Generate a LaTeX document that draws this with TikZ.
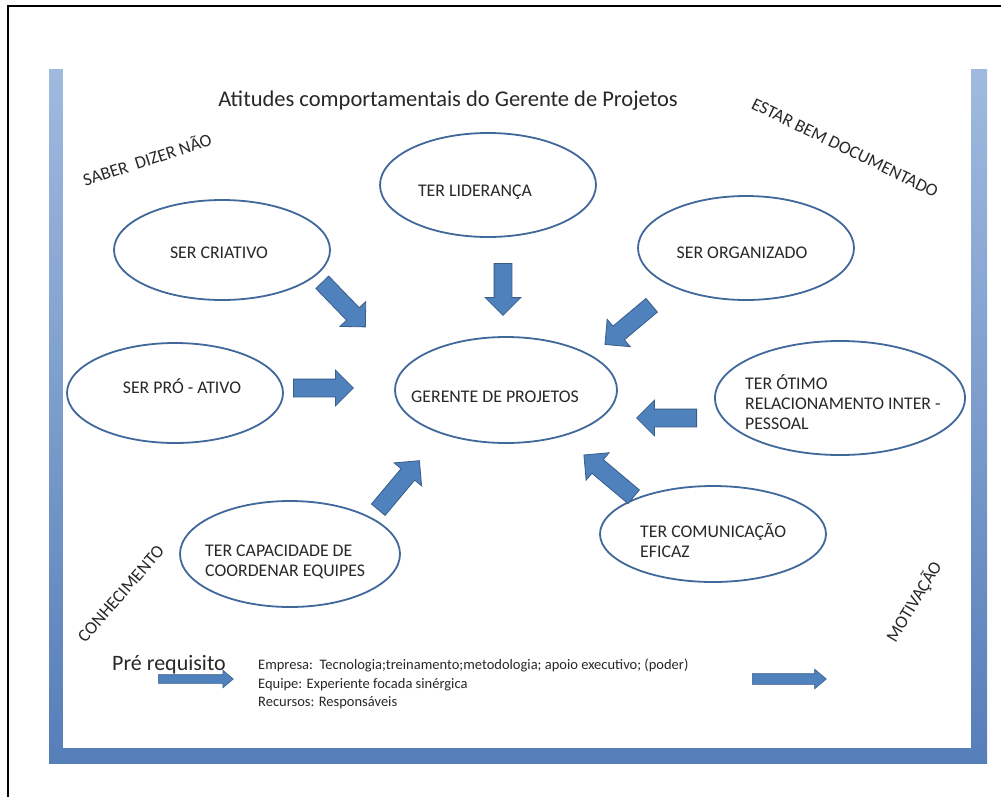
\documentclass[tikz,border=0pt]{standalone}
\usepackage{fontspec}
\setmainfont{Carlito}
\usepackage{tikz}
\usetikzlibrary{positioning, shapes.geometric, shapes.arrows}
\definecolor{ovalblue}{RGB}{64,104,154}
\definecolor{arrowfill}{RGB}{79,129,189}
\definecolor{arrowedge}{RGB}{56,93,138}
\definecolor{frametop}{RGB}{160,186,223}
\definecolor{framebot}{RGB}{86,126,185}
\definecolor{inkgray}{RGB}{40,40,40}

\begin{document}
\begin{tikzpicture}[
  x=1pt, y=-1pt,
  oval/.style={draw=ovalblue, line width=1.8pt, ellipse, inner sep=0pt},
  lbl/.style={font=\fontsize{17.8}{20}\selectfont, text=inkgray, inner sep=0pt},
  note/.style={font=\fontsize{14.5}{18.5}\selectfont, text=inkgray, inner sep=0pt, align=left},
  bigarrow/.style={single arrow, draw=arrowedge, fill=arrowfill, line width=0.8pt,
    inner xsep=0pt, inner ysep=8.5pt, minimum height=60pt, single arrow head extend=9pt, anchor=tail},
  smallarrow/.style={single arrow, draw=arrowedge, fill=arrowfill, line width=0.6pt,
    inner xsep=0pt, inner ysep=4pt, single arrow head extend=4.5pt, single arrow tip angle=80,
    minimum height=75pt, anchor=tail},
]
\useasboundingbox (0,0) rectangle (1001,796);
\clip (0,0) rectangle (1001,796);

% page with blue shadow
\shade[top color=frametop, bottom color=framebot] (49,69) rectangle (987,763);
\fill[white] (63,20) rectangle (971,748);
\draw[line width=1.5pt] (8,820) -- (8,6) -- (1020,6);

\node[font=\fontsize{22.5}{26}\selectfont, text=inkgray, inner sep=0pt, anchor=base] (title) at (448,106)
  {Atitudes comportamentais do Gerente de Projetos};

% ellipses
\node[oval, minimum width=216pt, minimum height=104pt] (lideranca) at (488,185) {};
\node[oval, minimum width=216pt, minimum height=100pt] (criativo) at (222,250) {};
\node[oval, minimum width=216pt, minimum height=104pt] (organizado) at (746,248) {};
\node[oval, minimum width=216pt, minimum height=100pt] (proativo) at (175,393) {};
\node[oval, minimum width=222pt, minimum height=106pt] (gerente) at (506,390) {};
\node[oval, minimum width=250pt, minimum height=114pt] (otimo) at (840,398) {};
\node[oval, minimum width=226pt, minimum height=96pt] (comunicacao) at (713,534) {};
\node[oval, minimum width=220pt, minimum height=106pt] (capacidade) at (290,554) {};

% texts
\node[lbl, anchor=base] (lideranca-t) at (475,196) {TER LIDERANÇA};
\node[lbl, anchor=base] (criativo-t) at (219,258) {SER CRIATIVO};
\node[lbl, anchor=base] (organizado-t) at (742,258) {SER ORGANIZADO};
\node[lbl, anchor=base] (proativo-t) at (182,393) {SER PRÓ - ATIVO};
\node[lbl, anchor=base] (gerente-t) at (495,402) {GERENTE DE PROJETOS};
\node[lbl, align=left, anchor=west] (otimo-t) at (745,402)
  {TER ÓTIMO\\RELACIONAMENTO INTER -\\PESSOAL};
\node[lbl, align=left, anchor=west] (comunicacao-t) at (640,540)
  {TER COMUNICAÇÃO\\EFICAZ};
\node[lbl, align=left, anchor=west] (capacidade-t) at (205,562)
  {TER CAPACIDADE DE\\COORDENAR EQUIPES};

% rotated words
\node[lbl, rotate=18] (dizer) at (147,159) {SABER\ \ DIZER NÃO};
\node[lbl, rotate=-26] (documentado) at (845,148) {ESTAR BEM DOCUMENTADO};
\node[lbl, rotate=49] (conhecimento) at (121,594) {CONHECIMENTO};
\node[lbl, rotate=59] (motivacao) at (914,602) {MOTIVAÇÃO};

% arrows into the centre
\node[bigarrow, rotate=-46, minimum height=62pt] (a-criativo) at (322,282) {};
\node[bigarrow, rotate=-90, minimum height=52pt] (a-lideranca) at (503,263) {};
\node[bigarrow, rotate=-140, minimum height=61pt] (a-organizado) at (652,305) {};
\node[bigarrow, rotate=0] (a-proativo) at (293,388) {};
\node[bigarrow, rotate=180] (a-otimo) at (697,418) {};
\node[bigarrow, rotate=140, minimum height=65pt] (a-comunicacao) at (634,497) {};
\node[bigarrow, rotate=50, minimum height=64pt] (a-capacidade) at (378,510) {};

% bottom line
\node[font=\fontsize{22}{26}\selectfont, text=inkgray, inner sep=0pt, anchor=base west] (pre) at (112,670) {Pré requisito};
\node[smallarrow] (a-pre) at (158,679) {};
\node[note, anchor=west] (recursos) at (258,684)
  {Empresa:\ \ Tecnologia;treinamento;metodologia; apoio executivo; (poder)\\
   Equipe: Experiente focada sinérgica\\
   Recursos: Responsáveis};
\node[smallarrow, inner ysep=5pt, single arrow head extend=4.5pt, minimum height=74pt] (a-motiv) at (752,679) {};
\end{tikzpicture}
\end{document}
